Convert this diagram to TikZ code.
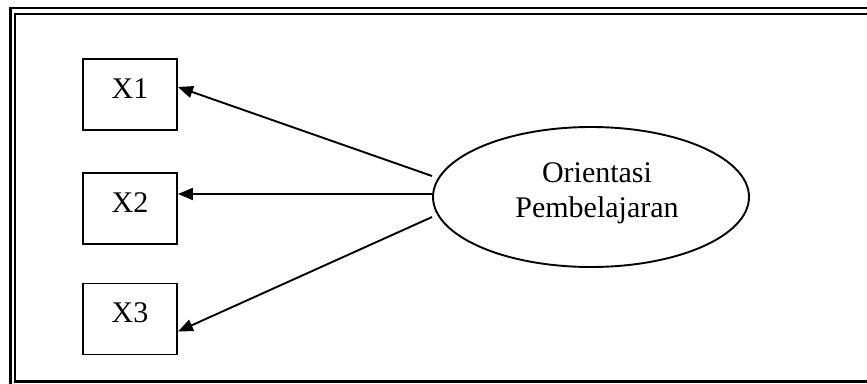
\documentclass[tikz,border=0pt]{standalone}
\usepackage{fontspec}
\setmainfont{Liberation Serif}
\usetikzlibrary{shapes.geometric,arrows.meta}

\tikzset{
  x=1pt, y=-1pt,
  indicator/.style={draw, line width=1.9pt, minimum width=94pt, minimum height=71pt,
    inner sep=0pt, text height=20pt, text depth=13pt,
    font=\fontsize{30pt}{35pt}\selectfont},
  latent/.style={draw, ellipse, line width=1.9pt, minimum width=316pt,
    minimum height=140pt, inner sep=0pt},
  loading/.style={line width=1.9pt, -{Triangle[length=15pt,width=12pt]}},
  frameline/.style={line width=2.3pt}
}

\begin{document}
\begin{tikzpicture}
  \useasboundingbox (0,0) rectangle (867,383);
  \clip (0,0) rectangle (867,383);

  % double outer frame
  \draw[frameline] (10.5,8.3) rectangle (900,420);
  \draw[frameline] (15.3,14) rectangle (895,381.5);

  % indicators
  \node[indicator] (x1) at (130,94.5) {X1};
  \node[indicator] (x2) at (130,208.5) {X2};
  \node[indicator] (x3) at (130,319) {X3};

  % latent construct
  \node[latent] (lv) at (591,197) {};
  \node[anchor=north, align=center, inner sep=0pt,
        font=\fontsize{30pt}{35pt}\selectfont] (lvt) at (597,162)
        {Orientasi\\Pembelajaran};

  % loadings
  \draw[loading] ([yshift=21pt]lv.west) -- ([yshift=7.5pt]x1.east);
  \draw[loading] ([yshift=3pt]lv.west) -- ([yshift=14.5pt]x2.east);
  \draw[loading] ([yshift=-20pt]lv.west) -- ([yshift=-12.5pt]x3.east);
\end{tikzpicture}
\end{document}
